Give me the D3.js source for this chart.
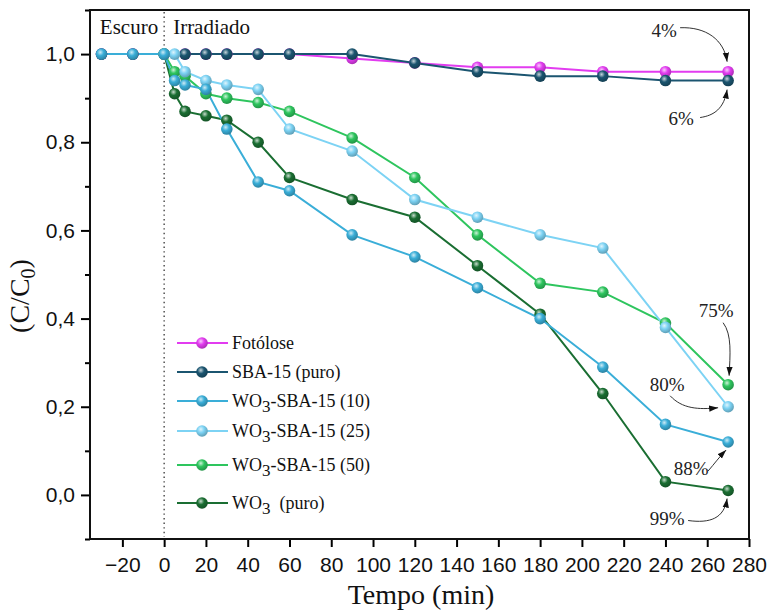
<!DOCTYPE html>
<html>
<head>
<meta charset="utf-8">
<script src="https://cdn.jsdelivr.net/npm/d3@7/dist/d3.min.js"></script>
<style>
  html, body { margin: 0; padding: 0; background: #fff; }
  svg { display: block; font-family: "Liberation Serif", "Times New Roman", serif; }
</style>
</head>
<body>
<svg id="chart" width="768" height="610"></svg>
<script>
// Photodegradation curves: relative concentration C/C0 versus time (min)
const seriesNames = ["Fotólose", "SBA-15 (puro)", "WO3-SBA-15 (10)", "WO3-SBA-15 (25)", "WO3-SBA-15 (50)", "WO3 (puro)"];
const seriesColors = ["#e23cf0", "#1b5570", "#3aaed8", "#7dd3f4", "#2ec55e", "#1a6e32"];

const timeFotolose = [-30, -15, 0, 10, 20, 30, 45, 60, 90, 120, 150, 180, 210, 240, 270];
const valFotolose  = [1, 1, 1, 1, 1, 1, 1, 1, 0.99, 0.98, 0.97, 0.97, 0.96, 0.96, 0.96];

const timeSBA = [-30, -15, 0, 10, 20, 30, 45, 60, 90, 120, 150, 180, 210, 240, 270];
const valSBA  = [1, 1, 1, 1, 1, 1, 1, 1, 1.0, 0.98, 0.96, 0.95, 0.95, 0.94, 0.94];

const timeW10 = [-30, -15, 0, 5, 10, 20, 30, 45, 60, 90, 120, 150, 180, 210, 240, 270];
const valW10  = [1, 1, 1, 0.94, 0.93, 0.92, 0.83, 0.71, 0.69, 0.59, 0.54, 0.47, 0.40, 0.29, 0.16, 0.12];

const timeW25 = [0, 5, 10, 20, 30, 45, 60, 90, 120, 150, 180, 210, 240, 270];
const valW25  = [1, 1.0, 0.96, 0.94, 0.93, 0.92, 0.83, 0.78, 0.67, 0.63, 0.59, 0.56, 0.38, 0.20];

const timeW50 = [0, 5, 10, 20, 30, 45, 60, 90, 120, 150, 180, 210, 240, 270];
const valW50  = [1, 0.96, 0.95, 0.91, 0.90, 0.89, 0.87, 0.81, 0.72, 0.59, 0.48, 0.46, 0.39, 0.25];

const timeWO3 = [0, 5, 10, 20, 30, 45, 60, 90, 120, 150, 180, 210, 240, 270];
const valWO3  = [1, 0.91, 0.87, 0.86, 0.85, 0.80, 0.72, 0.67, 0.63, 0.52, 0.41, 0.23, 0.03, 0.01];

const xTicks = [-20, 0, 20, 40, 60, 80, 100, 120, 140, 160, 180, 200, 220, 240, 260, 280];
const yTicks = [0, 0.2, 0.4, 0.6, 0.8, 1.0];
const yMinorTicks = [-0.1, 0.1, 0.3, 0.5, 0.7, 0.9, 1.1];

// Removal percentage labels at t = 270 min
const pctLabels = ["4%", "6%", "88%", "80%", "75%", "99%"];
const pctSeries = [0, 1, 2, 3, 4, 5];

const series = [
  { t: timeFotolose, v: valFotolose },
  { t: timeSBA, v: valSBA },
  { t: timeW10, v: valW10 },
  { t: timeW25, v: valW25 },
  { t: timeW50, v: valW50 },
  { t: timeWO3, v: valWO3 }
].map((s, i) => ({ name: seriesNames[i], color: seriesColors[i],
  pts: s.t.map((t, j) => ({ t, v: s.v[j] })) }));

const svg = d3.select("#chart");
const mLeft = 90, mRight = 749, mTop = 10, mBottom = 539;

const x = d3.scaleLinear().domain([-35.5, 280]).range([mLeft, mRight]);
const y = d3.scaleLinear().domain([-0.1, 1.1]).range([mBottom, mTop]);

// sphere-like marker gradients
const defs = svg.append("defs");
series.forEach((s, i) => {
  const g = defs.append("radialGradient").attr("id", "ball" + i)
    .attr("cx", "40%").attr("cy", "35%").attr("r", "65%");
  g.append("stop").attr("offset", "0%").attr("stop-color", d3.interpolateRgb(s.color, "#fff")(0.75));
  g.append("stop").attr("offset", "45%").attr("stop-color", s.color);
  g.append("stop").attr("offset", "100%").attr("stop-color", d3.color(s.color).darker(0.8));
});
defs.append("marker").attr("id", "arrow").attr("viewBox", "0 0 10 10")
  .attr("refX", 10).attr("refY", 5).attr("markerWidth", 9).attr("markerHeight", 10)
  .attr("orient", "auto").attr("markerUnits", "userSpaceOnUse")
  .append("path").attr("d", "M0,1.5 L10,5 L0,8.5 Z").attr("fill", "#111");

// axes
const xAxis = d3.axisBottom(x).tickValues(xTicks).tickSize(8).tickPadding(10).tickFormat(d3.format("d"));
const gx = svg.append("g").attr("transform", `translate(0,${mBottom})`).call(xAxis);
gx.select(".domain").remove();
gx.selectAll("line").attr("stroke", "#000").attr("stroke-width", 2);
gx.selectAll("text").attr("font-size", 21).attr("fill", "#111");

const yAxis = d3.axisLeft(y).tickValues(yTicks).tickSize(9).tickPadding(6)
  .tickFormat(d => d3.format(".1f")(d).replace(".", ","));
const gy = svg.append("g").attr("transform", `translate(${mLeft},0)`).call(yAxis);
gy.select(".domain").remove();
gy.selectAll("line").attr("stroke", "#000").attr("stroke-width", 2);
gy.selectAll("text").attr("font-size", 21).attr("fill", "#111");

const gyMinor = svg.append("g").attr("transform", `translate(${mLeft},0)`)
  .call(d3.axisLeft(y).tickValues(yMinorTicks).tickSize(5).tickFormat(""));
gyMinor.select(".domain").remove();
gyMinor.selectAll("line").attr("stroke", "#000").attr("stroke-width", 2);

// frame
svg.append("rect").attr("x", mLeft).attr("y", mTop).attr("width", mRight - mLeft).attr("height", mBottom - mTop)
  .attr("fill", "none").attr("stroke", "#111").attr("stroke-width", 2);

// dark / irradiated divider at t = 0
svg.append("line").attr("x1", x(0)).attr("x2", x(0)).attr("y1", mTop + 2).attr("y2", mBottom - 2)
  .attr("stroke", "#444").attr("stroke-width", 1.4).attr("stroke-dasharray", "1.4,3.2");
svg.append("text").attr("x", x(0) - 6).attr("y", 34).attr("text-anchor", "end")
  .attr("font-size", 21).attr("fill", "#111").text("Escuro");
svg.append("text").attr("x", x(0) + 9).attr("y", 34)
  .attr("font-size", 21).attr("fill", "#111").text("Irradiado");

// curves
const line = d3.line().x(d => x(d.t)).y(d => y(d.v));
const drawOrder = [0, 1, 5, 4, 3, 2];
drawOrder.forEach(i => {
  const s = series[i];
  svg.append("path").datum(s.pts).attr("d", line)
    .attr("fill", "none").attr("stroke", s.color).attr("stroke-width", 2);
});
drawOrder.forEach(i => {
  const s = series[i];
  svg.append("g").selectAll("circle").data(s.pts).join("circle")
    .attr("cx", d => x(d.t)).attr("cy", d => y(d.v)).attr("r", 5.8)
    .attr("fill", `url(#ball${i})`);
});

// legend
const legY = [343, 372, 401, 431, 465, 503];
series.forEach((s, i) => {
  const g = svg.append("g").attr("transform", `translate(0,${legY[i]})`);
  g.append("line").attr("x1", 177).attr("x2", 228).attr("stroke", s.color).attr("stroke-width", 2);
  g.append("circle").attr("cx", 202).attr("r", 5.8).attr("fill", `url(#ball${i})`);
  const t = g.append("text").attr("x", 232).attr("y", 6).attr("font-size", 18).attr("fill", "#111");
  const m = s.name.match(/^WO3(.*)$/);
  if (m) {
    t.append("tspan").text("WO");
    t.append("tspan").attr("dy", 5).attr("font-size", 17).text("3");
    t.append("tspan").attr("dy", -5).text(m[1].startsWith(" ") ? "\u00a0" + m[1] : m[1]);
  } else {
    t.text(s.name);
  }
});

// percentage annotations with curved arrows, placed relative to each curve's last point
const pctLayout = [
  { dx: -64, dy: -35, sx: -48, sy: -44, c1: [-22, -45], c2: [-4, -32], tip: [-1, -10] },
  { dx: -47, dy: 44,  sx: -28, sy: 37,  c1: [-14, 35],  c2: [-4, 28],  tip: [-1, 9] },
  { dx: -37, dy: 33,  sx: -20, sy: 29,  c1: [-14, 22],  c2: [-8, 14],  tip: [-2, 8] },
  { dx: -61, dy: -16, sx: -58, sy: -11, c1: [-46, 2],   c2: [-30, 3],  tip: [-10, 1] },
  { dx: -12, dy: -68, sx: -5,  sy: -62, c1: [4, -50],   c2: [2, -30],  tip: [1, -9] },
  { dx: -61, dy: 34,  sx: -40, sy: 30,  c1: [-18, 33],  c2: [-4, 28],  tip: [-1, 8] }
];
pctSeries.forEach((si, k) => {
  const s = series[si];
  const end = s.pts[s.pts.length - 1];
  const ex = x(end.t), ey = y(end.v);
  const L = pctLayout[si];
  svg.append("text").attr("x", ex + L.dx).attr("y", ey + L.dy).attr("text-anchor", "middle")
    .attr("font-size", 19).attr("fill", "#222").text(pctLabels[k]);
  svg.append("path")
    .attr("d", `M${ex + L.sx},${ey + L.sy} C${ex + L.c1[0]},${ey + L.c1[1]} ${ex + L.c2[0]},${ey + L.c2[1]} ${ex + L.tip[0]},${ey + L.tip[1]}`)
    .attr("fill", "none").attr("stroke", "#333").attr("stroke-width", 1)
    .attr("marker-end", "url(#arrow)");
});

// axis titles
svg.append("text").attr("x", 421).attr("y", 604).attr("text-anchor", "middle")
  .attr("font-size", 28).attr("fill", "#111").text("Tempo (min)");
const yt = svg.append("text").attr("transform", `translate(29,296) rotate(-90)`)
  .attr("text-anchor", "middle").attr("font-size", 28).attr("fill", "#111");
yt.append("tspan").text("(C/C");
yt.append("tspan").attr("dy", 6).attr("font-size", 20).text("0");
yt.append("tspan").attr("dy", -6).text(")");
</script>
</body>
</html>
